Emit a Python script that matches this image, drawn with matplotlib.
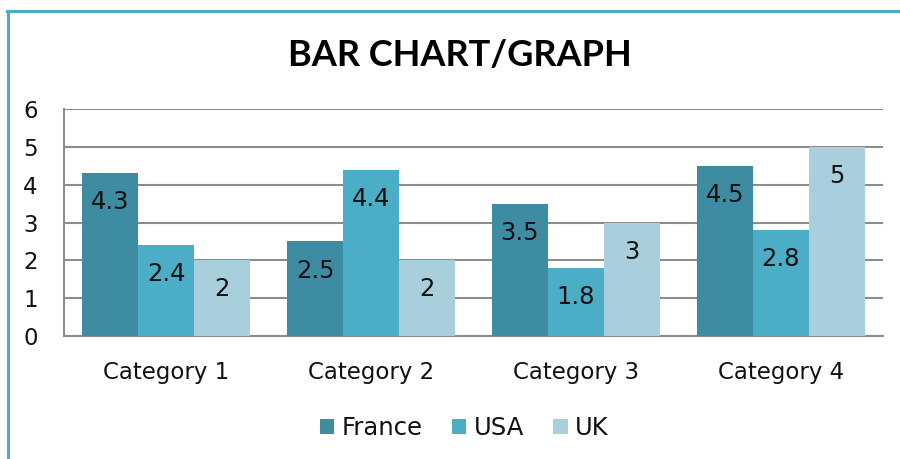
import matplotlib
matplotlib.use("Agg")
import matplotlib.pyplot as plt
from matplotlib.lines import Line2D
from matplotlib.patches import Patch
import numpy as np

categories = ["Category 1", "Category 2", "Category 3", "Category 4"]
series_names = ["France", "USA", "UK"]
france = [4.3, 2.5, 3.5, 4.5]
usa = [2.4, 4.4, 1.8, 2.8]
uk = [2, 2, 3, 5]
yticks = [0, 1, 2, 3, 4, 5, 6]
title = "BAR CHART/GRAPH"

colors = ["#3E8CA2", "#4BADC6", "#A9CFDD"]
plt.rcParams["font.family"] = ["DejaVu Sans"]

fig = plt.figure(figsize=(9, 4.59), dpi=100)
ax = fig.add_axes([64/900, 1-336/459, (883-64)/900, (336-109)/459])

x = np.arange(len(categories))
w = 0.2735
for i, (vals, name) in enumerate(zip([france, usa, uk], series_names)):
    ax.bar(x + (i-1)*w, vals, width=w, color=colors[i], label=name, zorder=3)
    for xi, v in zip(x + (i-1)*w, vals):
        ax.annotate(f"{v:g}", (xi, v), xytext=(0, -21), textcoords="offset points",
                    ha="center", va="center", fontsize=17.5, color="#111111", zorder=4)

ax.set_xlim(-0.5, 3.5)
ax.set_ylim(0, 6)
ax.set_yticks(yticks)
ax.set_yticklabels([str(t) for t in yticks], fontsize=16.5)
ax.set_xticks(x)
ax.set_xticklabels(categories, fontsize=16.5)
ax.tick_params(axis="both", length=0, colors="#111111")
ax.tick_params(axis="y", pad=19)
ax.tick_params(axis="x", pad=18)
ax.yaxis.grid(True, color="#8c8c8c", linewidth=1.5, zorder=0)
ax.set_axisbelow(True)
for s in ["top", "right"]:
    ax.spines[s].set_visible(False)
for s in ["left", "bottom"]:
    ax.spines[s].set_color("#8c8c8c")
    ax.spines[s].set_linewidth(1.5)

fig.text(460/900, 1-55/459, title, ha="center", va="center", fontsize=26, fontweight="bold",
         color="#000000", family=["Lato", "DejaVu Sans"])

handles = [Patch(facecolor=c, edgecolor="none") for c in colors]
fig.legend(handles, series_names, loc="center", bbox_to_anchor=(464/900, 1-428/459), ncol=3,
           frameon=False, fontsize=17.5, handlelength=0.6, handleheight=0.6, handletextpad=0.3,
           columnspacing=1.2, labelcolor="#111111")

fig.add_artist(Line2D([7/900, 1], [1-11/459, 1-11/459], color="#4BACC6", linewidth=2.2, transform=fig.transFigure))
fig.add_artist(Line2D([8/900, 8/900], [0, 1-11/459], color="#4BACC6", linewidth=2.2, transform=fig.transFigure))

fig.savefig("out.png", dpi=100)
